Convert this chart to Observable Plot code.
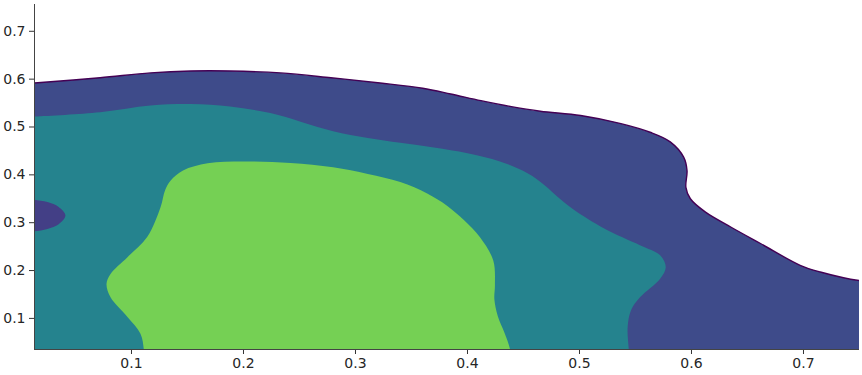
<!DOCTYPE html>
<html>
<head>
<meta charset="utf-8">
<script src="https://cdn.jsdelivr.net/npm/d3@7"></script>
<script src="https://cdn.jsdelivr.net/npm/@observablehq/plot@0.6"></script>
<style>
  body { margin: 0; background: white; }
</style>
</head>
<body>
<div id="chart"></div>
<script>
// Axis domains and ticks
const xDomain = [0.0134, 0.75];
const yDomain = [0.035, 0.756];
const xTicks = [0.1, 0.2, 0.3, 0.4, 0.5, 0.6, 0.7];
const yTicks = [0.1, 0.2, 0.3, 0.4, 0.5, 0.6, 0.7];

// Density level colors (lowest to highest)
const levelColors = ["#3e4b8a", "#433f86", "#25838e", "#75d054"];
const outlineColor = "#440154";

// Outer (lowest) contour boundary, [x, y]
const outerEdge = [
  [-0.05, 0.588], [0.0, 0.590], [0.0134, 0.592], [0.072, 0.603], [0.117, 0.613],
  [0.153, 0.617], [0.188, 0.617], [0.233, 0.613], [0.278, 0.603], [0.322, 0.592],
  [0.360, 0.581], [0.385, 0.569], [0.412, 0.555], [0.438, 0.543], [0.465, 0.533],
  [0.501, 0.524], [0.537, 0.507], [0.563, 0.489], [0.581, 0.469], [0.593, 0.437],
  [0.596, 0.409], [0.595, 0.374], [0.599, 0.350], [0.6125, 0.322], [0.635, 0.291],
  [0.662, 0.256], [0.697, 0.211], [0.715, 0.197], [0.75, 0.179], [0.80, 0.172]
];
const outerClosure = [[0.80, -0.2], [-0.05, -0.2]];

// Small low-density pocket at the left edge
const pocketEdge = [
  [-0.02, 0.350], [0.0, 0.349], [0.013, 0.348], [0.025, 0.343], [0.035, 0.333],
  [0.041, 0.315], [0.035, 0.297], [0.025, 0.287], [0.013, 0.282], [0.0, 0.281],
  [-0.02, 0.280]
];

// Middle contour
const middleEdge = [
  [-0.05, 0.520], [0.0, 0.521], [0.0134, 0.522], [0.072, 0.531], [0.117, 0.545],
  [0.153, 0.548], [0.188, 0.543], [0.224, 0.529], [0.251, 0.511], [0.280, 0.491],
  [0.311, 0.477], [0.340, 0.467], [0.370, 0.457], [0.400, 0.445], [0.429, 0.428],
  [0.454, 0.403], [0.468, 0.380], [0.483, 0.349], [0.495, 0.327], [0.522, 0.288],
  [0.554, 0.253], [0.572, 0.232], [0.577, 0.207], [0.572, 0.183], [0.554, 0.144],
  [0.546, 0.117], [0.543, 0.082], [0.544, 0.035], [0.545, 0.0], [0.545, -0.2],
  [-0.05, -0.2]
];

// Inner (highest) contour
const innerEdge = [
  [0.1116, -0.2], [0.1116, 0.0], [0.111, 0.035], [0.108, 0.068], [0.0964, 0.103],
  [0.0813, 0.144], [0.0777, 0.172], [0.0813, 0.193], [0.0964, 0.228], [0.114, 0.270],
  [0.126, 0.333], [0.130, 0.368], [0.135, 0.388], [0.146, 0.409], [0.168, 0.424],
  [0.200, 0.428], [0.242, 0.425], [0.280, 0.416], [0.311, 0.402], [0.340, 0.385],
  [0.364, 0.361], [0.382, 0.335], [0.397, 0.305], [0.411, 0.270], [0.423, 0.221],
  [0.4245, 0.170], [0.424, 0.140], [0.427, 0.105], [0.433, 0.070], [0.438, 0.035],
  [0.439, 0.0], [0.439, -0.2]
];

const px = d => d[0], py = d => d[1];
const fmt = d => d.toFixed(1);

const chart = Plot.plot({
  width: 862,
  height: 375,
  marginLeft: 34,
  marginRight: 3,
  marginTop: 4,
  marginBottom: 26,
  style: { fontFamily: "DejaVu Sans", color: "#262626", background: "white" },
  x: { domain: xDomain },
  y: { domain: yDomain },
  marks: [
    Plot.line(outerEdge.concat(outerClosure), { x: px, y: py, fill: levelColors[0], stroke: "none", curve: "catmull-rom-closed", clip: true }),
    Plot.line(outerEdge, { x: px, y: py, stroke: outlineColor, strokeWidth: 1.4, curve: "catmull-rom", clip: true }),
    Plot.line(middleEdge, { x: px, y: py, fill: levelColors[2], stroke: "none", curve: "catmull-rom-closed", clip: true }),
    Plot.line(pocketEdge, { x: px, y: py, fill: levelColors[1], stroke: "none", curve: "catmull-rom-closed", clip: true }),
    Plot.line(innerEdge, { x: px, y: py, fill: levelColors[3], stroke: "none", curve: "catmull-rom-closed", clip: true }),
    Plot.axisX({ ticks: xTicks, tickFormat: fmt, tickSize: 5, tickPadding: 4, fontSize: "14px", label: null, stroke: "#333" }),
    Plot.axisY({ ticks: yTicks, tickFormat: fmt, tickSize: 5, tickPadding: 4, fontSize: "14px", label: null, stroke: "#333" }),
    Plot.ruleX([xDomain[0]], { stroke: "#444", strokeWidth: 1 }),
    Plot.ruleY([yDomain[0]], { stroke: "#444", strokeWidth: 1 })
  ]
});
document.getElementById("chart").appendChild(chart);
</script>
</body>
</html>
